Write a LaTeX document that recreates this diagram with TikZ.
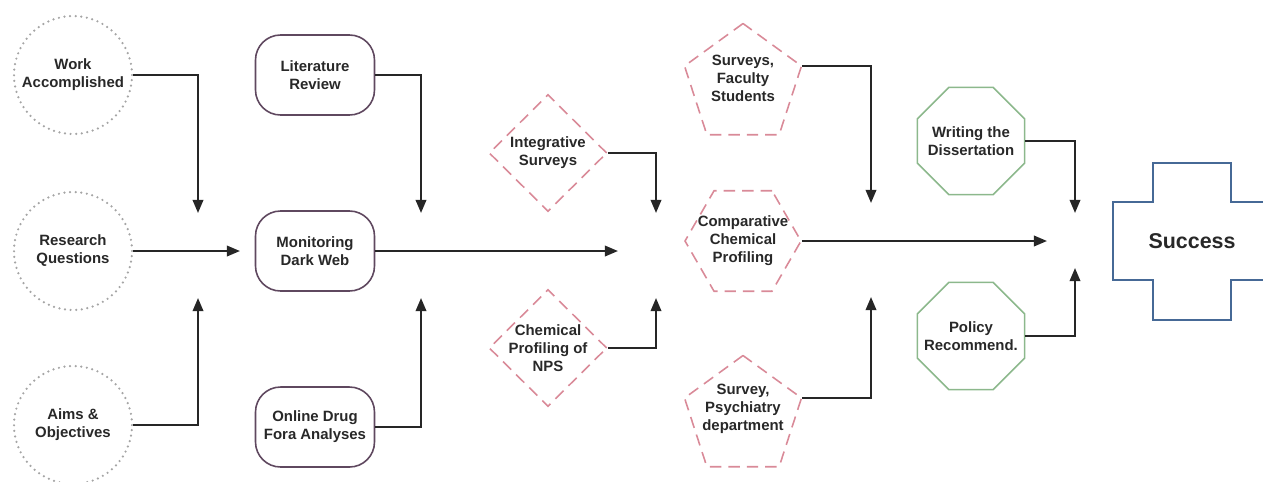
\documentclass[tikz,border=0pt]{standalone}
\usepackage{fontspec}
\setmainfont{Liberation Sans}
\definecolor{dotgray}{RGB}{165,165,165}
\definecolor{plum}{RGB}{95,72,95}
\definecolor{rose}{RGB}{217,138,152}
\definecolor{sage}{RGB}{140,184,140}
\definecolor{steel}{RGB}{70,105,150}
\definecolor{ink}{RGB}{40,40,40}
\usetikzlibrary{arrows.meta,shapes.geometric,calc,positioning}
\tikzstyle{every node}+=[font=\fontsize{8.5}{10.2}\selectfont\bfseries,text=ink,align=center,inner sep=0pt]
\tikzstyle{goal}=[circle,draw=dotgray,line width=1.4pt,dash pattern=on 0pt off 3.2pt,line cap=round,minimum size=2.36cm]
\tikzstyle{task}=[rectangle,rounded corners=0.5cm,draw=plum,line width=0.9pt,minimum width=2.38cm,minimum height=1.6cm]
\tikzstyle{study}=[draw=rose,line width=0.9pt,dash pattern=on 6.5pt off 4pt]
\tikzstyle{survey}=[study,diamond,minimum width=2.36cm,minimum height=2.34cm]
\tikzstyle{field}=[study,regular polygon,regular polygon sides=5,minimum size=2.46cm]
\tikzstyle{profile}=[study,regular polygon,regular polygon sides=6,minimum size=2.32cm]
\tikzstyle{output}=[regular polygon,regular polygon sides=8,draw=sage,line width=0.9pt,minimum size=2.32cm]
\tikzstyle{flow}=[draw=black!85,line width=1.2pt,-{Triangle[length=7.5pt,width=6pt]}]
\newcommand{\drawedges}[2][\empty]{
	\foreach \a/\b in {#2}{
		\draw[flow,#1] (\a) -- (\b);
	}
}
\newcommand{\drawelbows}[2][\empty]{
	\foreach \a/\b in {#2}{
		\draw[flow,#1] (\a) -| (\b);
	}
}

\begin{document}
\begin{tikzpicture}[x=0.02cm,y=-0.02cm]
\useasboundingbox (0,0) rectangle (1263,481);

% starting points
\node[goal] (work) at (73,75) {Work\\Accomplished};
\node[goal] (rq) at (73,251) {Research\\Questions};
\node[goal] (aims) at (73,425) {Aims \&\\Objectives};

% first tasks
\node[task] (lit) at (315,75) {Literature\\Review};
\node[task] (mdw) at (315,251) {Monitoring\\Dark Web};
\node[task] (fora) at (315,427) {Online Drug\\Fora Analyses};

% lab work
\node[survey,label={center:{Integrative\\Surveys}}] (integ) at (548,153) {};
\node[survey,label={center:{Chemical\\Profiling of\\NPS}}] (nps) at (548,348) {};

% surveys
\node[field,label={[yshift=0.14cm]center:{Surveys,\\Faculty\\Students}}] (fac) at (743,85) {};
\node[profile,label={center:{Comparative\\Chemical\\Profiling}}] (comp) at (743,241) {};
\node[field,label={[yshift=0.16cm]center:{Survey,\\Psychiatry\\department}}] (psy) at (743,417) {};

% write up
\node[output,label={center:{Writing the\\Dissertation}}] (write) at (971,141) {};
\node[output,label={center:{Policy\\Recommend.}}] (policy) at (971,336) {};

\node[font=\fontsize{12.2}{14}\selectfont\bfseries] (success) at (1192,241) {Success};
\draw[steel,line width=0.9pt] (1263,202) -- (1231,202) -- (1231,163) -- (1153,163) -- (1153,202)
  -- (1113,202) -- (1113,280) -- (1153,280) -- (1153,320) -- (1231,320) -- (1231,280) -- (1263,280);

\coordinate (j1n) at (198,213);
\coordinate (j1w) at (240,251);
\coordinate (j1s) at (198,298);
\coordinate (j2n) at (421,213);
\coordinate (j2w) at (618,251);
\coordinate (j2s) at (421,298);
\coordinate (j3n) at (656,213);
\coordinate (j3s) at (656,298);
\coordinate (j4n) at (871,203);
\coordinate (j4w) at (1047,241);
\coordinate (j4s) at (871,297);
\coordinate (j5n) at (1075,213);
\coordinate (j5s) at (1075,268);

\drawedges{rq.east/j1w,mdw.east/j2w,comp.east/j4w}
\drawelbows{work.east/j1n,aims.east/j1s,lit.east/j2n,fora.east/j2s}
\drawelbows{integ.east/j3n,nps.east/j3s,fac.corner 5/j4n,psy.corner 5/j4s}
\drawelbows{write.east/j5n,policy.east/j5s}
\end{tikzpicture}
\end{document}
